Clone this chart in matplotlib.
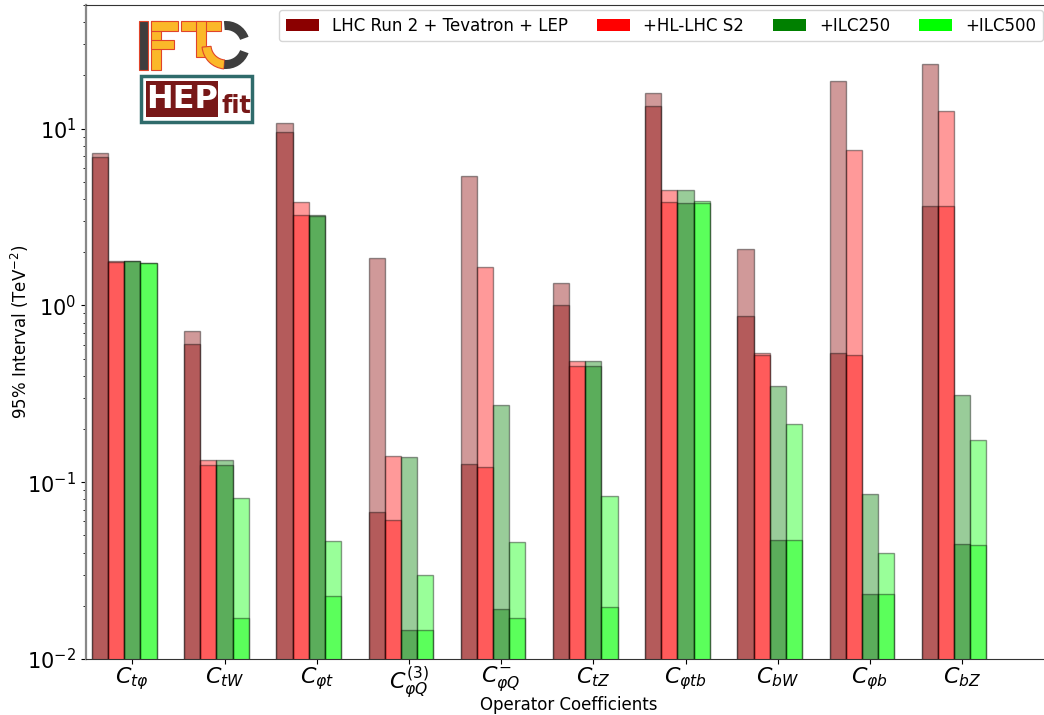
import numpy as np
import matplotlib
matplotlib.use("Agg")
import matplotlib.pyplot as plt
from matplotlib.patches import Patch, Rectangle, Wedge

# Operator coefficients (x-axis categories)
categories = [r"$C_{t\varphi}$", r"$C_{tW}$", r"$C_{\varphi t}$", r"$C_{\varphi Q}^{(3)}$",
              r"$C_{\varphi Q}^{-}$", r"$C_{tZ}$", r"$C_{\varphi tb}$", r"$C_{bW}$",
              r"$C_{\varphi b}$", r"$C_{bZ}$"]

series_labels = ["LHC Run 2 + Tevatron + LEP", "+HL-LHC S2", "+ILC250", "+ILC500"]
series_colors = ["darkred", "red", "green", "lime"]

# 95% intervals (TeV^-2): global (marginalised) fit
lhc_global    = [7.3, 0.718, 10.7, 1.86, 5.41, 1.33, 15.96, 2.09, 18.7, 23.3]
hllhc_global  = [1.79, 0.134, 3.86, 0.141, 1.65, 0.486, 4.51, 0.54, 7.6, 12.6]
ilc250_global = [1.79, 0.134, 3.26, 0.139, 0.274, 0.486, 4.51, 0.351, 0.0859, 0.312]
ilc500_global = [1.74, 0.0815, 0.0466, 0.0299, 0.046, 0.0836, 3.9, 0.214, 0.0398, 0.173]

# 95% intervals (TeV^-2): individual (one operator at a time) fit
lhc_indiv    = [6.93, 0.607, 9.6, 0.068, 0.127, 1.0, 13.5, 0.873, 0.54, 3.66]
hllhc_indiv  = [1.76, 0.125, 3.26, 0.061, 0.122, 0.455, 3.86, 0.525, 0.525, 3.66]
ilc250_indiv = [1.78, 0.125, 3.2, 0.0146, 0.0192, 0.455, 3.81, 0.0471, 0.0233, 0.0448]
ilc500_indiv = [1.74, 0.0171, 0.0227, 0.0146, 0.0171, 0.0197, 3.8, 0.0471, 0.0233, 0.0444]

global_vals = [lhc_global, hllhc_global, ilc250_global, ilc500_global]
indiv_vals = [lhc_indiv, hllhc_indiv, ilc250_indiv, ilc500_indiv]

W, H = 1044, 715
fig = plt.figure(figsize=(W / 100, H / 100), dpi=100)
ax_w_px, ax_h_px = 962, 654
ax = fig.add_axes([86 / W, 1 - 659 / H, ax_w_px / W, ax_h_px / H])

x = np.arange(len(categories))
width = 0.175
for k in range(4):
    ax.bar(x + k * width, global_vals[k], width, align="edge", color=series_colors[k],
           alpha=0.4, edgecolor="black", linewidth=1.0)
    ax.bar(x + k * width, indiv_vals[k], width, align="edge", color=series_colors[k],
           alpha=0.4, edgecolor="black", linewidth=1.0)

ax.set_yscale("log")
ax.set_ylim(0.01, 50)
ax.set_xlim(-0.065, -0.065 + ax_w_px / 92.2)
ax.set_xticks(x + 2.5 * width)
ax.set_xticklabels(categories, fontsize=16)
ax.tick_params(axis="x", pad=1)
ax.tick_params(axis="y", which="major", labelsize=15)
ax.set_ylabel(r"95% Interval (TeV$^{-2}$)", fontsize=12)
ax.yaxis.set_label_coords((20 - 86) / ax_w_px, 0.5)
ax.set_xlabel("Operator Coefficients", fontsize=12)
ax.xaxis.set_label_coords((569 - 86) / ax_w_px, -(705 - 659) / ax_h_px)
ax.xaxis.label.set_va("center")
ax.yaxis.label.set_va("center")
for s in ax.spines.values():
    s.set_color("#333333")
ax.spines["left"].set_color("#888888")
ax.spines["left"].set_linewidth(1.6)

handles = [Patch(facecolor=c) for c in series_colors]
ax.legend(handles, series_labels, loc="upper right", ncol=4, fontsize=12,
          columnspacing=1.7, borderaxespad=0,
          bbox_to_anchor=((1043 - 86) / ax_w_px, 1 - 5 / ax_h_px))

# Institute logos in the upper-left corner (drawn in pixel coordinates)
lax = fig.add_axes([130 / W, 1 - 128 / H, 130 / W, 120 / H])
lax.set_xlim(130, 260)
lax.set_ylim(128, 8)
lax.set_aspect("auto")
lax.axis("off")

yellow = "#FBB829"
edge_red = "#E0442A"
dgray = "#3E3E3E"
# I
lax.add_patch(Rectangle((139, 21), 9, 49, facecolor=dgray, edgecolor=edge_red, lw=0.8))
# F
lax.add_patch(Rectangle((151, 21), 10, 49, facecolor=yellow, edgecolor=edge_red, lw=0.8))
lax.add_patch(Rectangle((151, 21), 27, 10, facecolor=yellow, edgecolor=edge_red, lw=0.8))
lax.add_patch(Rectangle((151, 40), 23, 9, facecolor=yellow, edgecolor=edge_red, lw=0.8))
# I
lax.add_patch(Rectangle((181, 21), 40, 10, facecolor=yellow, edgecolor=edge_red, lw=0.8))
lax.add_patch(Rectangle((196, 21), 10, 36, facecolor=yellow, edgecolor=edge_red, lw=0.8))
lax.add_patch(Wedge((226, 45), 24, 95, 175, width=9, facecolor=yellow, edgecolor=edge_red,
                    lw=0.8))
# C
lax.add_patch(Wedge((226, 45), 24, 265, 340, width=9, facecolor=dgray, edgecolor="none"))
lax.add_patch(Wedge((226, 45), 24, 20, 95, width=9, facecolor=dgray, edgecolor="none"))

# HEPfit box
lax.add_patch(Rectangle((141, 76), 111, 46, facecolor="white", edgecolor="#2F6B6B", lw=2.5))
lax.add_patch(Rectangle((146, 81), 72, 36, facecolor="#781818", edgecolor="none"))
lax.text(182, 100, "HEP", color="white", fontsize=23, fontweight="bold",
         ha="center", va="center", family="DejaVu Sans")
lax.text(236, 106, "fit", color="#781818", fontsize=17, fontweight="bold",
         ha="center", va="center", family="DejaVu Sans")

fig.savefig("out.png", dpi=100)
